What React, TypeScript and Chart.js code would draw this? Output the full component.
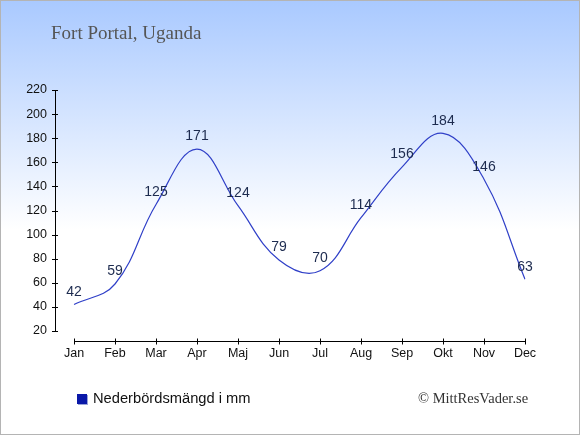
import React, { useEffect, useRef } from "react";
import { Chart, registerables } from "chart.js";

Chart.register(...registerables);

const months = ["Jan", "Feb", "Mar", "Apr", "Maj", "Jun", "Jul", "Aug", "Sep", "Okt", "Nov", "Dec"];
const precipitation = [42, 59, 125, 171, 124, 79, 70, 114, 156, 184, 146, 63];
const yTicks = [20, 40, 60, 80, 100, 120, 140, 160, 180, 200, 220];

const axesPlugin = {
  id: "customAxes",
  afterDraw(chart: any) {
    const ctx = chart.ctx;
    const xs = chart.scales.x;
    const ys = chart.scales.y;
    ctx.save();
    ctx.strokeStyle = "#000";
    ctx.lineWidth = 1;
    // y axis
    const ax = Math.round(chart.chartArea.left - 19) + 0.5;
    ctx.beginPath();
    ctx.moveTo(ax, ys.getPixelForValue(yTicks[yTicks.length - 1]));
    ctx.lineTo(ax, ys.getPixelForValue(yTicks[0]));
    yTicks.forEach((v) => {
      const py = Math.round(ys.getPixelForValue(v)) + 0.5;
      ctx.moveTo(ax - 3.5, py);
      ctx.lineTo(ax + 2.5, py);
    });
    ctx.stroke();
    // x axis
    const ay = Math.round(chart.chartArea.bottom + 10) + 0.5;
    ctx.beginPath();
    ctx.moveTo(xs.getPixelForValue(0), ay);
    ctx.lineTo(xs.getPixelForValue(months.length - 1), ay);
    months.forEach((_, i) => {
      const px = Math.round(xs.getPixelForValue(i)) + 0.5;
      ctx.moveTo(px, ay - 3);
      ctx.lineTo(px, ay + 3);
    });
    ctx.stroke();
    ctx.restore();
  },
};

const labelsPlugin = {
  id: "valueLabels",
  afterDatasetsDraw(chart: any) {
    const ctx = chart.ctx;
    const meta = chart.getDatasetMeta(0);
    ctx.save();
    ctx.font = '14px "Liberation Sans", Arial, sans-serif';
    ctx.fillStyle = "#1d2b4f";
    ctx.textAlign = "center";
    ctx.textBaseline = "middle";
    meta.data.forEach((pt: any, i: number) => {
      ctx.fillText(String(precipitation[i]), pt.x, pt.y - 12.5);
    });
    ctx.restore();
  },
};

export default function App() {
  const ref = useRef<HTMLCanvasElement>(null);
  useEffect(() => {
    document.body.style.margin = "0";
    const chart = new Chart(ref.current!, {
      type: "line",
      data: {
        labels: months,
        datasets: [
          {
            label: "Nederbördsmängd i mm",
            data: precipitation,
            borderColor: "#3040c8",
            borderWidth: 1.2,
            pointRadius: 0,
            tension: 0.4,
            fill: false,
          },
        ],
      },
      options: {
        responsive: false,
        animation: false,
        devicePixelRatio: 1,
        layout: { padding: { top: 90, left: 0, right: 55, bottom: 0 } },
        plugins: { legend: { display: false }, tooltip: { enabled: false }, title: { display: false } },
        scales: {
          x: {
            type: "category",
            offset: false,
            grid: { display: false, drawTicks: false },
            border: { display: false },
            ticks: {
              color: "#111",
              font: { family: '"Liberation Sans", Arial, sans-serif', size: 12.5 },
              padding: 15,
              maxRotation: 0,
              autoSkip: false,
            },
            afterFit: (s: any) => {
              s.height = 104;
            },
          },
          y: {
            min: 20,
            max: 220,
            grid: { display: false, drawTicks: false },
            border: { display: false },
            afterBuildTicks: (s: any) => {
              s.ticks = yTicks.map((v) => ({ value: v }));
            },
            ticks: {
              color: "#111",
              font: { family: '"Liberation Sans", Arial, sans-serif', size: 12.5 },
              padding: 27,
            },
            afterFit: (s: any) => {
              s.width = 74;
            },
          },
        },
      },
      plugins: [axesPlugin, labelsPlugin],
    });
    return () => chart.destroy();
  }, []);

  return (
    <div
      style={{
        position: "fixed",
        left: 0,
        top: 0,
        width: 580,
        height: 435,
        background: "linear-gradient(to bottom, #a9c9ff 0px, #ffffff 230px, #ffffff 435px)",
        overflow: "hidden",
      }}
    >
      <canvas ref={ref} width={580} height={435} style={{ position: "absolute", left: 0, top: 0 }} />
      <div
        style={{
          position: "absolute",
          left: 51,
          top: 21,
          fontFamily: '"Liberation Serif", "Times New Roman", serif',
          fontSize: 19,
          color: "#555",
          whiteSpace: "nowrap",
          lineHeight: "24px",
        }}
      >
        Fort Portal, Uganda
      </div>
      <div
        style={{
          position: "absolute",
          left: 77,
          top: 394,
          width: 10,
          height: 10,
          background: "#0a18a8",
          boxShadow: "1px 1px 0 #9aa4d8",
        }}
      />
      <div
        style={{
          position: "absolute",
          left: 93,
          top: 389,
          fontFamily: '"Liberation Sans", Arial, sans-serif',
          fontSize: 14.7,
          lineHeight: "18px",
          color: "#111",
          whiteSpace: "nowrap",
        }}
      >
        Nederbördsmängd i mm
      </div>
      <div
        style={{
          position: "absolute",
          left: 418,
          top: 389,
          fontFamily: '"Liberation Serif", "Times New Roman", serif',
          fontSize: 14.5,
          lineHeight: "18px",
          color: "#333",
          whiteSpace: "nowrap",
        }}
      >
        © MittResVader.se
      </div>
      <div
        style={{
          position: "absolute",
          left: 0,
          top: 0,
          width: 580,
          height: 435,
          boxSizing: "border-box",
          border: "1px solid #b4b4b4",
          pointerEvents: "none",
        }}
      />
    </div>
  );
}
